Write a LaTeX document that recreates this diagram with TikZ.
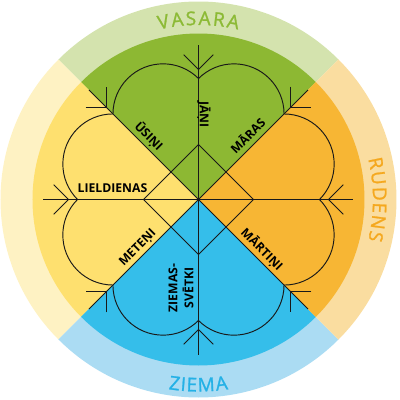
\documentclass[tikz,border=0pt]{standalone}
\usepackage{fontspec}
\setmainfont{Open Sans}
\newfontfamily\ringfont[FakeBold=1.2]{Open Sans}
\usetikzlibrary{calc}
\definecolor{cgreen}{HTML}{8DB833}
\definecolor{cpgreen}{HTML}{D4E3AE}
\definecolor{corange}{HTML}{F7B634}
\definecolor{cporange}{HTML}{FADDA0}
\definecolor{cblue}{HTML}{35BEEA}
\definecolor{cpblue}{HTML}{ABDCF3}
\definecolor{cyellow}{HTML}{FEE06F}
\definecolor{cpyellow}{HTML}{FEF2C3}
\definecolor{tgreen}{HTML}{8CBA35}
\definecolor{torange}{HTML}{F5A81E}
\definecolor{tblue}{HTML}{24B1E6}
\tikzset{
  blk/.style={draw=black!90, line width=0.95pt},
  lbl/.style={font=\bfseries\fontsize{12.2}{13}\selectfont, inner sep=0pt},
  ringch/.style={font=\ringfont\fontsize{19}{21}\selectfont, inner sep=0pt, anchor=base}
}
\begin{document}
\begin{tikzpicture}[x=1pt,y=1pt]
\useasboundingbox (-198.5,-200.5) rectangle (201.5,199.5);
% outer pale ring sectors
\fill[cpgreen]  (0,0) -- (45:198)  arc[start angle=45,  end angle=135, radius=198] -- cycle;
\fill[cpyellow] (0,0) -- (135:198) arc[start angle=135, end angle=225, radius=198] -- cycle;
\fill[cpblue]   (0,0) -- (225:198) arc[start angle=225, end angle=315, radius=198] -- cycle;
\fill[cporange] (0,0) -- (-45:198) arc[start angle=-45, end angle=45,  radius=198] -- cycle;
% inner sectors
\fill[cgreen]  (0,0) -- (45:166)  arc[start angle=45,  end angle=135, radius=166] -- cycle;
\fill[cyellow] (0,0) -- (135:166) arc[start angle=135, end angle=225, radius=166] -- cycle;
\fill[cblue]   (0,0) -- (225:166) arc[start angle=225, end angle=315, radius=166] -- cycle;
\fill[corange] (0,0) -- (-45:166) arc[start angle=-45, end angle=45,  radius=166] -- cycle;
% rays with barbs
\foreach \a in {0,45,...,315} {
  \draw[blk] (0,0) -- (\a:155);
  \draw[blk] ($(\a:130)+({\a+45}:21)$) -- (\a:130) -- ($(\a:130)+({\a-45}:21)$);
}
% heart lobes
\foreach \b in {22.5,67.5,...,337.5} {
  \draw[blk] ({\b-22.5}:121) arc[start angle={\b-67.5}, end angle={\b+67.5}, radius=50.1];
}
% central diamond
\draw[blk] (0:55) -- (90:55) -- (180:55) -- (270:55) -- cycle;
% inner labels
\node[lbl, rotate=-90, anchor=base] (jani) at (1.5,85) {JĀŅI};
\node[lbl, anchor=base] (lield) at (-86,6.7) {LIELDIENAS};
\node[lbl, rotate=-45, anchor=base] (usini) at ($(135:80)+(45:5.5)$) {ŪSIŅI};
\node[lbl, rotate=45, anchor=base] (maras) at ($(45:80)+(135:5.5)$) {MĀRAS};
\node[lbl, rotate=45, anchor=base] (meteni) at ($(225:77)+(135:5.5)$) {METEŅI};
\node[lbl, rotate=-45, anchor=base] (martini) at ($(315:80)+(45:5.5)$) {MĀRTIŅI};
\node[lbl, rotate=90, anchor=base] (ziem) at (-21,-88.5) {ZIEMAS-};
\node[lbl, rotate=90, anchor=base] (svet) at (-5,-88.5) {SVĒTKI};
% ring labels
\foreach \ch/\t [count=\i] in {V/101.22, A/96.73, S/92.39, A/88.05, R/83.49, A/78.92} {
  \pgfmathsetmacro\rr{\t-90}
  \node[ringch, text=tgreen, rotate=\rr] (vas\i) at (\t:174.5) {\ch};
}
\foreach \ch/\t [count=\i] in {R/11.57, U/6.84, D/1.79, E/-2.66, N/-7.21, S/-11.80} {
  \pgfmathsetmacro\rr{\t-90}
  \node[ringch, text=torange, rotate=\rr] (rud\i) at (\t:174.5) {\ch};
}
\foreach \ch/\t [count=\i] in {Z/262.63, I/265.32, E/267.95, M/272.38, A/277.13} {
  \pgfmathsetmacro\rr{\t-270}
  \node[ringch, text=tblue, rotate=\rr] (zie\i) at (\t:192) {\ch};
}
\end{tikzpicture}
\end{document}
